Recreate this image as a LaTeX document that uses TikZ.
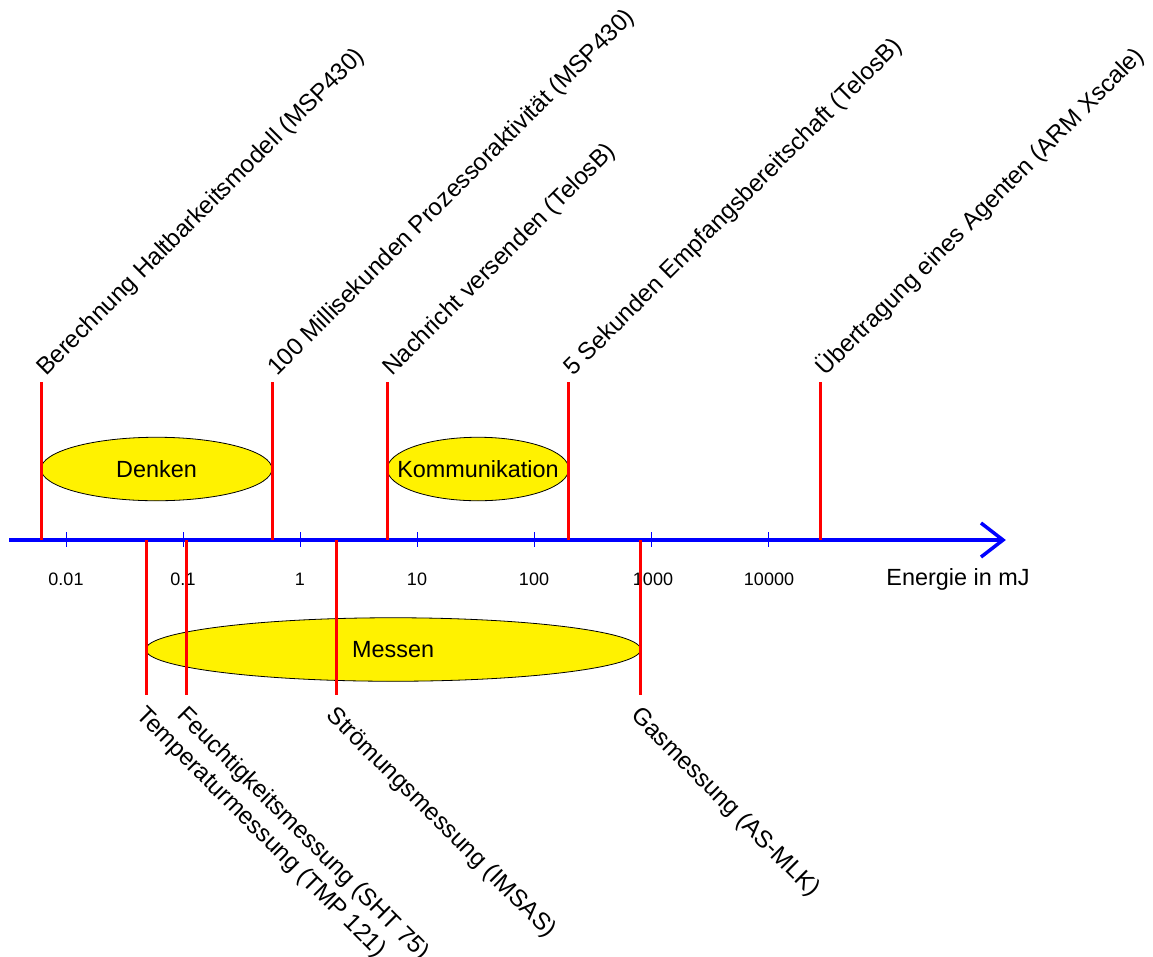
\documentclass[tikz,border=0pt]{standalone}
\usepackage{fontspec}
\setmainfont{Liberation Sans}
\usetikzlibrary{shapes.geometric}

\tikzset{
  axisline/.style={draw=blue, line width=3.5pt, line cap=butt},
  tickmark/.style={draw=blue, line width=1.3pt},
  marker/.style={draw=red, line width=3pt},
  area/.style={ellipse, draw=black, line width=0.8pt, fill=yellow,
               inner xsep=-30pt, inner ysep=0pt,
               font=\fontsize{23.4}{28}\selectfont},
  ticklabel/.style={font=\fontsize{18}{22}\selectfont, inner sep=0pt},
  uplabel/.style={rotate=45, anchor=base west, inner sep=0pt,
                  font=\fontsize{24.2}{29}\selectfont},
  downlabel/.style={rotate=-45, anchor=north west, inner sep=0pt,
                    font=\fontsize{24.2}{29}\selectfont},
}

\begin{document}
\begin{tikzpicture}[x=1pt, y=-1pt]
  \useasboundingbox (0,0) rectangle (1153,956);

  % energy axis (logarithmic, one decade = 117pt)
  \coordinate (axL) at (9,540);
  \coordinate (axR) at (1003,540);
  \coordinate (barbU) at (981,523);
  \coordinate (barbD) at (981,557);
  \draw[axisline] (axL) -- (axR);
  \draw[axisline, line join=miter] (barbU) -- (axR) -- (barbD);

  % decade ticks and their labels
  \foreach \i in {0,...,6} {
    \coordinate (tk\i a) at (66.3+117*\i, 532);
    \coordinate (tk\i b) at (66.3+117*\i, 547);
    \draw[tickmark] (tk\i a) -- (tk\i b);
  }
  \node[ticklabel] (l0) at (66,579)  {0.01};
  \node[ticklabel] (l1) at (183,579) {0.1};
  \node[ticklabel] (l2) at (300,579) {1};
  \node[ticklabel] (l3) at (417,579) {10};
  \node[ticklabel] (l4) at (534,579) {100};
  \node[ticklabel] (l5) at (653,579) {1000};
  \node[ticklabel] (l6) at (769,579) {10000};
  \node[inner sep=0pt, font=\fontsize{23.4}{28}\selectfont] (unit) at (958,579) {Energie in mJ};

  % activity ranges
  \node[area, minimum width=231pt, minimum height=63.5pt] (denken) at (156.5,469) {Denken};
  \node[area, minimum width=181.5pt, minimum height=63.5pt] (komm) at (478,469) {Kommunikation};
  \node[area, minimum width=495pt, minimum height=63.5pt] (messen) at (393.2,649.5) {Messen};

  % markers above the axis
  \foreach \n/\x in {berech/41, proz/272, nachr/387, empf/568.5, agent/820.5} {
    \coordinate (\n T) at (\x,382);
    \coordinate (\n B) at (\x,540);
    \draw[marker] (\n T) -- (\n B);
  }
  \node[uplabel] (tBerech) at (46,377) {Berechnung Haltbarkeitsmodell (MSP430)};
  \node[uplabel] (tProz)   at (277,377) {100 Millisekunden Prozessoraktivität (MSP430)};
  \node[uplabel] (tNachr)  at (392,377) {Nachricht versenden (TelosB)};
  \node[uplabel] (tEmpf)   at (573.5,377) {5 Sekunden Empfangsbereitschaft (TelosB)};
  \node[uplabel] (tAgent)  at (825.5,377) {Übertragung eines Agenten (ARM Xscale)};

  % markers below the axis
  \foreach \n/\x in {temp/146, feucht/186.5, stroem/336, gas/640.5} {
    \coordinate (\n T) at (\x,540);
    \coordinate (\n B) at (\x,695);
    \draw[marker] (\n T) -- (\n B);
  }
  \node[downlabel] (tTemp)   at (148,704) {Temperaturmessung (TMP 121)};
  \node[downlabel] (tFeucht) at (188.5,704) {Feuchtigkeitsmessung (SHT 75)};
  \node[downlabel] (tStroem) at (338,704) {Strömungsmessung (IMSAS)};
  \node[downlabel] (tGas)    at (642.5,704) {Gasmessung (AS-MLK)};
\end{tikzpicture}
\end{document}
